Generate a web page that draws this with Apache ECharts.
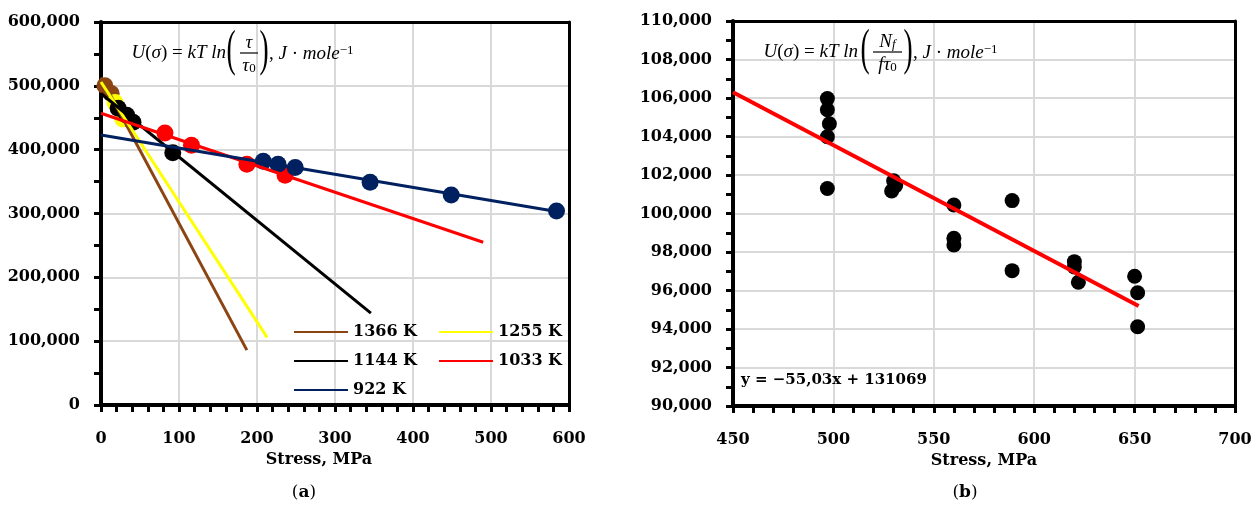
<!DOCTYPE html>
<html>
<head>
<meta charset="utf-8">
<script src="https://cdn.jsdelivr.net/npm/echarts@6/dist/echarts.min.js"></script>
<style>
  html, body { margin: 0; padding: 0; background: #fff; }
  #main { width: 1258px; height: 515px; }
</style>
</head>
<body>
<div id="main"></div>
<script>
// (a) U(sigma) vs stress, one set of points and one fit line per temperature
const temps = ['1366 K', '1255 K', '1144 K', '1033 K', '922 K'];
const pts1366 = [[5, 500000], [13, 488000]];
const pts1255 = [[18, 474000], [28, 448000]];
const pts1144 = [[22, 465000], [33, 454000], [41, 443000], [92, 395000]];
const pts1033 = [[82, 426000], [116, 407000], [187, 377000], [236, 360000]];
const pts922 = [[208, 382000], [227, 377000], [249, 372000], [345, 349000], [449, 329000], [584, 304000]];
const fit1366 = [[0, 513000], [187, 86000]];
const fit1255 = [[0, 506000], [213, 106000]];
const fit1144 = [[0, 488000], [346, 144000]];
const fit1033 = [[0, 457000], [490, 255000]];
const fit922 = [[0, 423000], [584, 303000]];

// (b) U(sigma) vs stress, all points + linear fit
const stressB = [497, 497, 498, 497, 497, 530, 531, 529, 560, 560, 560, 589, 589, 620, 620, 622, 650, 651.5, 651.5];
const energyB = [105970, 105390, 104660, 103990, 101300, 101700, 101450, 101170, 100440, 98710, 98360, 100670, 97030, 97500, 97220, 96430, 96740, 95880, 94120];
const fitB = [[450, 106300], [652, 95190]];
const fitLabel = 'y = \u221255,03x + 131069';

const colors = ['#8B4513', '#FFFF00', '#000000', '#FF0000', '#002060'];
const ptsAll = [pts1366, pts1255, pts1144, pts1033, pts922];
const fitAll = [fit1366, fit1255, fit1144, fit1033, fit922];

const FONT = 'DejaVu Serif';
const MATH = 'Liberation Serif';
const lblStyle = { fontFamily: FONT, fontWeight: 'bold', fontSize: 16, color: '#000' };

function xAxisCfg(grid, min, max, interval, minorSplit, namePad) {
  return {
    type: 'value', gridIndex: grid, min: min, max: max, interval: interval,
    axisLine: { show: true, onZero: false, lineStyle: { color: '#000', width: 4 } },
    axisTick: { show: true, inside: false, length: 7, lineStyle: { color: '#000', width: 3 } },
    minorTick: { show: true, splitNumber: minorSplit, length: 7, lineStyle: { color: '#000', width: 3 } },
    splitLine: { show: true, lineStyle: { color: '#d9d9d9', width: 2 } },
    axisLabel: Object.assign({ margin: 26 }, lblStyle),
    name: 'Stress, MPa', nameLocation: 'middle', nameGap: 40,
    nameTextStyle: Object.assign({ padding: namePad }, lblStyle)
  };
}

function yAxisCfg(grid, min, max, interval, minorSplit) {
  return {
    type: 'value', gridIndex: grid, min: min, max: max, interval: interval,
    axisLine: { show: true, onZero: false, lineStyle: { color: '#000', width: 4 } },
    axisTick: { show: true, inside: false, length: 7, lineStyle: { color: '#000', width: 3 } },
    minorTick: { show: true, splitNumber: minorSplit, length: 7, lineStyle: { color: '#000', width: 3 } },
    splitLine: { show: true, lineStyle: { color: '#d9d9d9', width: 2 } },
    axisLabel: Object.assign({
      margin: 21,
      formatter: function (v) { return v.toLocaleString('en-US'); }
    }, lblStyle)
  };
}

// plain frame line on the top / right side of a plot
function frameAxis(grid, pos, min, max) {
  return {
    type: 'value', gridIndex: grid, position: pos, min: min, max: max,
    axisLine: { show: true, onZero: false, lineStyle: { color: '#000', width: 3 } },
    axisTick: { show: false }, axisLabel: { show: false }, splitLine: { show: false }
  };
}

// math formula drawn as pieces: U(σ) = kT ln ( num / den ) , J · mole^-1
const mathRich = {
  i: { fontFamily: MATH, fontStyle: 'italic', fontSize: 19, fill: '#000' },
  r: { fontFamily: MATH, fontSize: 19, fill: '#000' },
  s: { fontFamily: MATH, fontSize: 13, fill: '#000', verticalAlign: 'top' },
  b: { fontFamily: MATH, fontSize: 13, fill: '#000', verticalAlign: 'bottom' },
  bi: { fontFamily: MATH, fontStyle: 'italic', fontSize: 13, fill: '#000', verticalAlign: 'bottom' }
};
function mtext(x, y, s, align) {
  return { type: 'text', x: x, y: y, silent: true, z: 20,
    style: { text: s, rich: mathRich, textAlign: align || 'left', textVerticalAlign: 'middle' } };
}
function paren(x, y, s) {
  return { type: 'text', x: x, y: y, scaleX: 0.55, silent: true, z: 20,
    style: { text: s, fontFamily: MATH, fontSize: 50, fill: '#000', textAlign: 'center', textVerticalAlign: 'middle' } };
}
function formula(o) {
  const mid = (o.bar[0] + o.bar[1]) / 2;
  return [
    mtext(o.lhsEnd, o.y, '{i|U}{r|(}{i|\u03C3}{r|) = }{i|kT ln}', 'right'),
    paren(o.lp, o.y - 1, '('),
    paren(o.rp, o.y - 1, ')'),
    { type: 'line', silent: true, z: 20, shape: { x1: o.bar[0], y1: o.y, x2: o.bar[1], y2: o.y },
      style: { stroke: '#000', lineWidth: 1.2 } },
    mtext(mid, o.y - 10, o.num, 'center'),
    mtext(mid, o.y + 13, o.den, 'center'),
    mtext(o.tail[0], o.y + 1, o.tail[1])
  ];
}

const series = [];
temps.forEach(function (name, i) {
  series.push({
    name: name + ' data', type: 'scatter', xAxisIndex: 0, yAxisIndex: 0,
    symbolSize: 17, itemStyle: { color: colors[i], opacity: 1 }, data: ptsAll[i], z: 3
  });
  series.push({
    name: name, type: 'line', xAxisIndex: 0, yAxisIndex: 0,
    symbol: 'none', lineStyle: { color: colors[i], width: 3 }, itemStyle: { color: colors[i] },
    data: fitAll[i], z: 4
  });
});
series.push({
  name: 'b data', type: 'scatter', xAxisIndex: 1, yAxisIndex: 1, z: 3,
  symbolSize: 15, itemStyle: { color: '#000', opacity: 1 },
  data: stressB.map(function (s, i) { return [s, energyB[i]]; })
});
series.push({
  name: 'b fit', type: 'line', xAxisIndex: 1, yAxisIndex: 1, z: 4,
  symbol: 'none', lineStyle: { color: '#FF0000', width: 4 }, data: fitB
});

const legendBase = {
  orient: 'vertical', itemWidth: 54, itemHeight: 14, itemGap: 13,
  itemStyle: { opacity: 0 },
  selectedMode: false, textStyle: lblStyle
};

const chart = echarts.init(document.getElementById('main'), null, { renderer: 'canvas' });
chart.setOption({
  backgroundColor: '#fff',
  animation: false,
  grid: [
    { left: 101, top: 22, width: 468, height: 383 },
    { left: 733, top: 21, width: 502, height: 385 }
  ],
  xAxis: [
    xAxisCfg(0, 0, 600, 100, 5, [0, 32, 0, 0]),
    xAxisCfg(1, 450, 700, 50, 5, [0, 0, 0, 0]),
    frameAxis(0, 'top', 0, 600),
    frameAxis(1, 'top', 450, 700)
  ],
  yAxis: [
    yAxisCfg(0, 0, 600000, 100000, 2),
    yAxisCfg(1, 90000, 110000, 2000, 2),
    frameAxis(0, 'right', 0, 600000),
    frameAxis(1, 'right', 90000, 110000)
  ],
  legend: [
    Object.assign({ left: 288, top: 319, data: ['1366 K', '1144 K', '922 K'] }, legendBase),
    Object.assign({ left: 433, top: 319, data: ['1255 K', '1033 K'] }, legendBase)
  ],
  graphic: [].concat(
    formula({
      y: 53, lhsEnd: 226, lp: 231, rp: 264, bar: [240, 258],
      num: '{i|\u03C4}', den: '{i|\u03C4}{b|0}',
      tail: [269, '{r|, }{i|J}{r| \u00B7 }{i|mole}{s|\u22121}']
    }),
    formula({
      y: 52, lhsEnd: 858, lp: 865, rp: 908, bar: [873, 902],
      num: '{i|N}{bi|f}', den: '{i|f\u03C4}{b|0}',
      tail: [913, '{r|,}{i| J}{r| \u00B7 }{i|mole}{s|\u22121}']
    }),
    [
      { type: 'text', x: 741, y: 380, silent: true, z: 20,
        style: { text: fitLabel, fontFamily: FONT, fontWeight: 'bold', fontSize: 15, fill: '#000', textVerticalAlign: 'middle' } },
      { type: 'text', x: 304, y: 493, silent: true,
        style: { text: '{n|(}{b|a}{n|)}', textAlign: 'center', textVerticalAlign: 'middle',
          rich: { n: { fontFamily: FONT, fontSize: 17, fill: '#000' }, b: { fontFamily: FONT, fontSize: 17, fontWeight: 'bold', fill: '#000' } } } },
      { type: 'text', x: 965, y: 493, silent: true,
        style: { text: '{n|(}{b|b}{n|)}', textAlign: 'center', textVerticalAlign: 'middle',
          rich: { n: { fontFamily: FONT, fontSize: 17, fill: '#000' }, b: { fontFamily: FONT, fontSize: 17, fontWeight: 'bold', fill: '#000' } } } }
    ]
  ),
  series: series
});
</script>
</body>
</html>
